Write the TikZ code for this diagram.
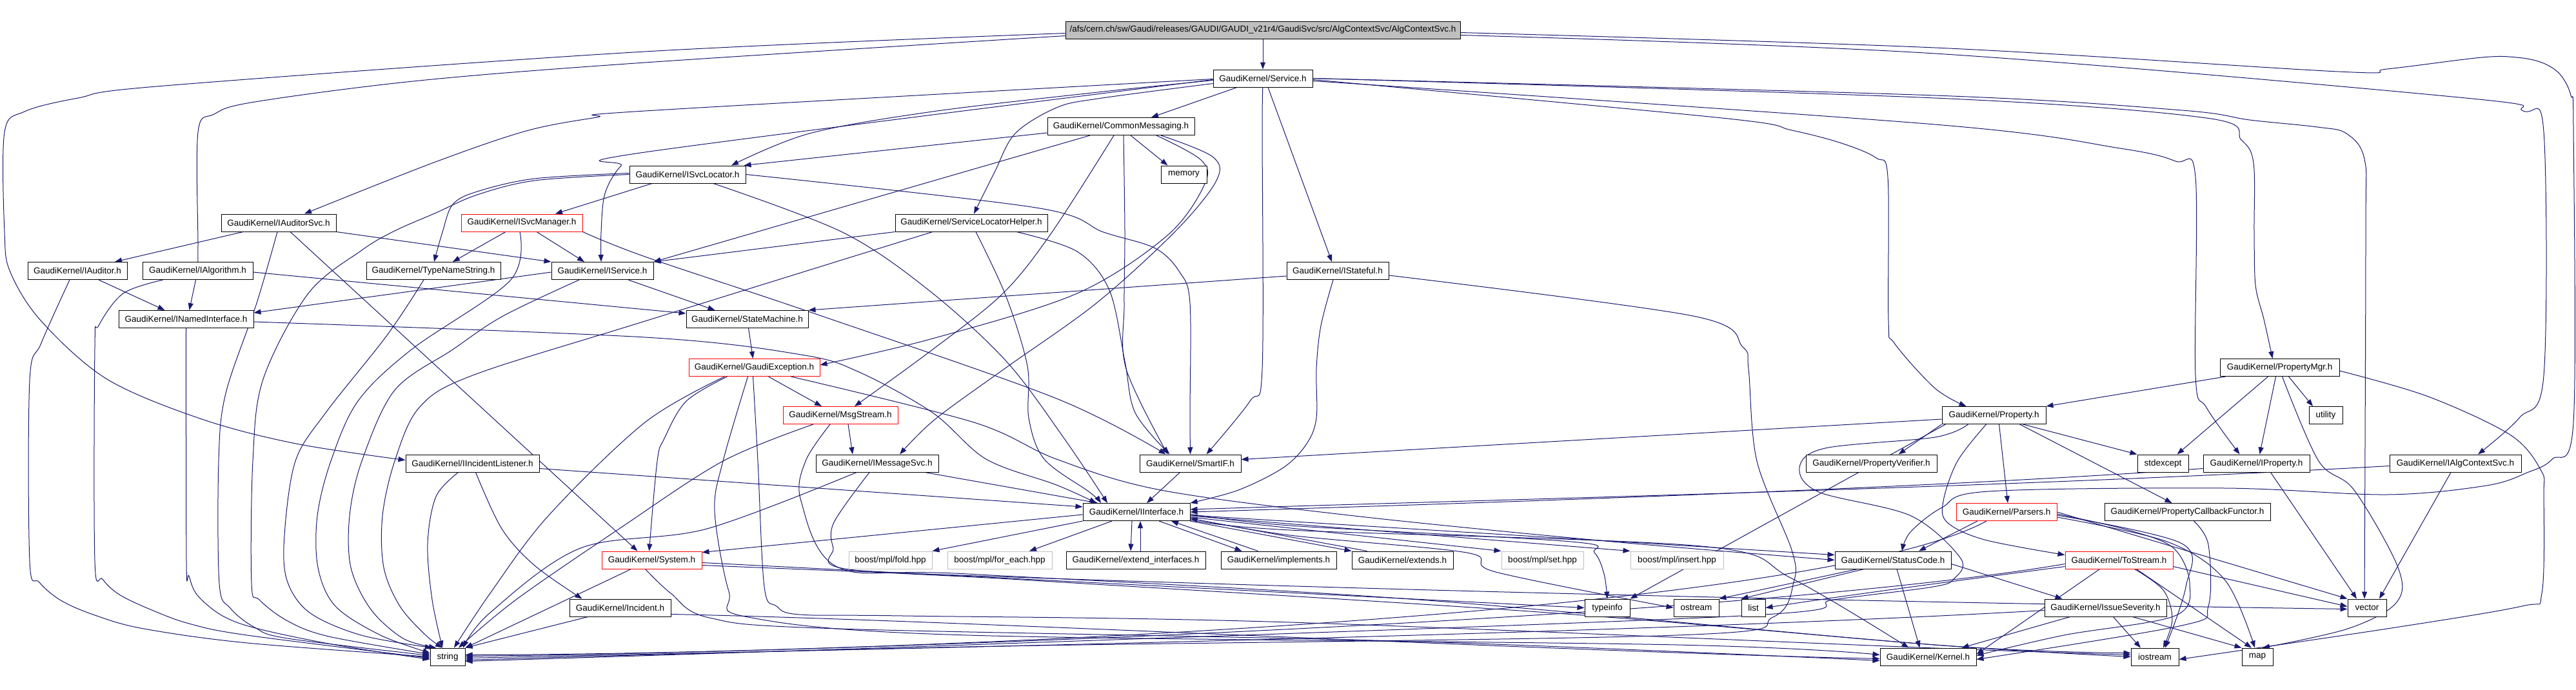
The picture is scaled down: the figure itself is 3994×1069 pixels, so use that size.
\documentclass[tikz,border=0pt]{standalone}
\usepackage{fontspec}
\setmainfont{Liberation Sans}
\usetikzlibrary{arrows.meta}
\definecolor{edgec}{HTML}{191970}
\definecolor{rootgray}{HTML}{BFBFBF}
\definecolor{bgray}{HTML}{BFBFBF}
\pgfdeclarelayer{background}
\pgfsetlayers{background,main}
\newcommand{\pth}[1]{\draw[edg] plot[smooth,tension=0.55] coordinates {#1};}
\begin{document}
\begin{tikzpicture}[x=1pt,y=-1pt,
  nd/.style={draw=black,line width=1pt,fill=white,inner sep=0pt,minimum height=27pt,font=\fontsize{13.5}{16}\selectfont},
  trunc/.style={nd,draw=red},
  bst/.style={nd,draw=bgray},
  edg/.style={draw=edgec,line width=1pt,-{Triangle[length=11pt,width=8pt]}}]
\useasboundingbox (0,0) rectangle (3994,1069);
% ---------------- nodes
\node[nd,fill=rootgray,minimum width=612pt] (root) at (1958,46.5) {/afs/cern.ch/sw/Gaudi/releases/GAUDI/GAUDI\_v21r4/GaudiSvc/src/AlgContextSvc/AlgContextSvc.h};
\node[nd,minimum width=154pt] (svc) at (1958,121.5) {GaudiKernel/Service.h};
\node[nd,minimum width=228pt] (cm) at (1738,196) {GaudiKernel/CommonMessaging.h};
\node[nd,minimum width=71pt] (mem) at (1835.5,270.5) {memory};
\node[nd,minimum width=180pt] (isl) at (1066,270.5) {GaudiKernel/ISvcLocator.h};
\node[nd,minimum width=178pt] (ias) at (432,345.5) {GaudiKernel/IAuditorSvc.h};
\node[trunc,minimum width=188pt] (ism) at (809,345.5) {GaudiKernel/ISvcManager.h};
\node[nd,minimum width=236pt] (slh) at (1506,345.5) {GaudiKernel/ServiceLocatorHelper.h};
\node[nd,minimum width=154pt] (iaud) at (120,420) {GaudiKernel/IAuditor.h};
\node[nd,minimum width=171pt] (ialg) at (306.5,420) {GaudiKernel/IAlgorithm.h};
\node[nd,minimum width=208pt] (tns) at (672,420) {GaudiKernel/TypeNameString.h};
\node[nd,minimum width=158pt] (isv) at (934,420) {GaudiKernel/IService.h};
\node[nd,minimum width=158pt] (ist) at (2074,420) {GaudiKernel/IStateful.h};
\node[nd,minimum width=209pt] (ini) at (288.5,495) {GaudiKernel/INamedInterface.h};
\node[nd,minimum width=189pt] (sm) at (1158.5,495) {GaudiKernel/StateMachine.h};
\node[trunc,minimum width=203pt] (gex) at (1169.5,570) {GaudiKernel/GaudiException.h};
\node[nd,minimum width=185pt] (pmgr) at (3534.5,570) {GaudiKernel/PropertyMgr.h};
\node[trunc,minimum width=178pt] (msg) at (1303,644) {GaudiKernel/MsgStream.h};
\node[nd,minimum width=161pt] (prop) at (3091.5,644) {GaudiKernel/Property.h};
\node[nd,minimum width=52pt] (util) at (3606,644) {utility};
\node[nd,minimum width=207pt] (iil) at (732.5,718.5) {GaudiKernel/IIncidentListener.h};
\node[nd,minimum width=190pt] (ims) at (1360,718.5) {GaudiKernel/IMessageSvc.h};
\node[nd,minimum width=157pt] (sif) at (1845.5,718.5) {GaudiKernel/SmartIF.h};
\node[nd,minimum width=203pt] (pver) at (2901.5,718.5) {GaudiKernel/PropertyVerifier.h};
\node[nd,minimum width=79pt] (stde) at (3353.5,718.5) {stdexcept};
\node[nd,minimum width=165pt] (iprop) at (3498.5,718.5) {GaudiKernel/IProperty.h};
\node[nd,minimum width=204pt] (iacs) at (3807,718.5) {GaudiKernel/IAlgContextSvc.h};
\node[nd,minimum width=166pt] (iif) at (1762,794) {GaudiKernel/IInterface.h};
\node[trunc,minimum width=156pt] (pars) at (3111,794) {GaudiKernel/Parsers.h};
\node[nd,minimum width=257pt] (pcf) at (3391.5,794) {GaudiKernel/PropertyCallbackFunctor.h};
\node[trunc,minimum width=155pt] (sys) at (1010.5,868.5) {GaudiKernel/System.h};
\node[bst,minimum width=129pt] (fold) at (1380.5,868.5) {boost/mpl/fold.hpp};
\node[bst,minimum width=162pt] (fore) at (1550,868.5) {boost/mpl/for\_each.hpp};
\node[nd,minimum width=216pt] (extif) at (1761,868.5) {GaudiKernel/extend\_interfaces.h};
\node[nd,minimum width=179pt] (impl) at (1982.5,868.5) {GaudiKernel/implements.h};
\node[nd,minimum width=157pt] (exts) at (2174.5,868.5) {GaudiKernel/extends.h};
\node[bst,minimum width=127pt] (mset) at (2391.5,868.5) {boost/mpl/set.hpp};
\node[bst,minimum width=144pt] (mins) at (2600,868.5) {boost/mpl/insert.hpp};
\node[nd,minimum width=180pt] (sc) at (2935,868.5) {GaudiKernel/StatusCode.h};
\node[trunc,minimum width=167pt] (tos) at (3285.5,868.5) {GaudiKernel/ToStream.h};
\node[nd,minimum width=157pt] (inc) at (961.5,942.5) {GaudiKernel/Incident.h};
\node[nd,minimum width=70pt] (tinfo) at (2492,942.5) {typeinfo};
\node[nd,minimum width=70pt] (ostr) at (2630,942.5) {ostream};
\node[nd,minimum width=37pt] (lst) at (2718.5,942.5) {list};
\node[nd,minimum width=189pt] (isev) at (3264.5,942.5) {GaudiKernel/IssueSeverity.h};
\node[nd,minimum width=60pt] (vec) at (3670,942.5) {vector};
\node[nd,minimum width=54pt] (str) at (694,1018.5) {string};
\node[nd,minimum width=149pt] (kern) at (2989.5,1018.5) {GaudiKernel/Kernel.h};
\node[nd,minimum width=74pt] (iost) at (3341,1018.5) {iostream};
\node[nd,minimum width=48pt] (map) at (3500,1018.5) {map};
% ---------------- edges
\begin{pgfonlayer}{background}
\fill[white] (0,0) rectangle (3994,1069);
% root
\draw[edg] (root) -- (svc);
\pth{([yshift=-5pt]root.west) (1000,80) (255,133) (121,152) (38,173) (7,205) (7,360) (16,422) (64,498) (166,588) (313,650) (459,688) ([yshift=5pt]iil.west)}
\pth{([yshift=-9pt]root.west) (1000,97) (650,125) (395,158) (332,177) (307,205) (307,380) (ialg.north)}
\pth{([yshift=-8pt]root.east) (3000,83) (3823,152) (3912,172) (3944,205) (3944,582) (3906,648) ([xshift=35pt]iacs.north)}
\pth{([yshift=-4pt]root.east) (3000,74) (3625,111) (3701,107) (3848,89) (3902,89) (3941,97) (3969,115) (3986,148) (3990,200) (3990,655) (3957,712) (3918,733) (3855,753) (3701,767) (3450,757) (3083,762) (3011,787) (2962,825) ([xshift=14pt]sc.north)}
% Service
\draw[edg] ([xshift=-40pt]svc.south) -- ([xshift=47pt]cm.north);
\pth{([yshift=-3pt]svc.west) (1702,143) (1446,173) (1255,207) ([xshift=68pt]isl.north)}
\pth{([yshift=-1pt]svc.west) (1000,172) (925,182) (816,203) (670,253) ([xshift=40pt]ias.north)}
\pth{([yshift=-2pt]svc.west) (1000,236) (963,257) (938,300) (932,360) ([xshift=-2pt]isv.north)}
\pth{([yshift=-8pt]svc.west) (1702,153) (1638,167) (1574,207) (1542,267) ([xshift=4pt]slh.north)}
\pth{(svc.south) (1957,200) (1957,572) (1938,622) ([xshift=25pt]sif.north)}
\draw[edg] ([xshift=8pt]svc.south) -- ([xshift=-9pt]ist.north);
\pth{([yshift=-2pt]svc.east) (2670,183) (2778,202) (2855,222) (2909,245) (2927,275) (2928,498) (2937,532) (3000,602) ([xshift=-43pt]prop.north)}
\pth{([yshift=-4pt]svc.east) (3000,193) (3287,230) (3373,250) (3404,275) (3404,582) (3421,632) ([xshift=-26pt]iprop.north)}
\pth{(svc.east) (3000,152) (3421,183) (3475,217) (3494,253) (3495,360) (3497,442) (3510,495) ([xshift=-11pt]pmgr.north)}
\pth{(svc.east) (3000,148) (3383,171) (3488,186) (3593,197) (3638,207) (3666,247) (3668,360) ([xshift=-4pt]vec.north)}
% CommonMessaging
\draw[edg] ([yshift=-10pt]cm.west) -- ([xshift=-3pt]isl.north east);
\draw[edg] ([xshift=15pt]cm.south) -- ([xshift=-25pt]mem.north);
\draw[edg] ([xshift=-48pt]cm.south) -- (isv.north east);
\pth{([xshift=-11pt]cm.south) (1631,360) (1555,455) (1446,542) ([xshift=22pt]msg.north)}
\pth{([xshift=4pt]cm.south) (1744,360) (1743,472) (1746,572) ([xshift=-35pt]sif.north)}
\pth{([xshift=62pt]cm.south) (1880,243) (1886,280) (1823,358) (1700,470) (1560,570) (1450,650) ([xshift=35pt]ims.north)}
\pth{([xshift=55pt]cm.south) (1862,248) (1868,285) (1810,365) (1670,455) (1446,525) ([yshift=4pt]gex.east)}
% ISvcLocator
\draw[edg] ([xshift=-55pt]isl.south) -- ([xshift=52pt]ism.north);
\pth{([yshift=2pt]isl.west) (829,277) (740,297) (702,317) (686,360) ([xshift=1pt]tns.north)}
\pth{(isl.west) (829,280) (740,302) (676,330) (612,358) (561,388) (478,455) (408,588) (392,715) (390,905) (402,930) (446,963) (510,987) ([yshift=4pt]str.west)}
\pth{(isl.east) (1606,322) (1711,360) (1791,385) (1829,422) (1845,470) (1845,640) (sif.north)}
\pth{([xshift=40pt]isl.south) (1306,360) (1440,450) (1560,560) (1650,680) ([xshift=-45pt]iif.north)}
% IAuditorSvc
\draw[edg] ([xshift=-55pt]ias.south) -- ([xshift=58pt]iaud.north);
\draw[edg] (ias.south east) -- (isv.north west);
\draw[edg] ([xshift=18pt]ias.south) -- ([xshift=-22pt]sys.north);
\pth{([xshift=-2pt]ias.south) (398,470) (350,610) (339,715) (340,905) (357,943) (395,973) (446,990) ([yshift=2pt]str.west)}
% IAuditor
\draw[edg] ([xshift=33pt]iaud.south) -- ([xshift=-33pt]ini.north);
\pth{([xshift=-12pt]iaud.south) (64,532) (46,590) (46,870) (61,903) (96,932) (150,955) (223,975) (383,997) (str.west)}
% IAlgorithm
\draw[edg] ([xshift=-3pt]ialg.south) -- ([xshift=5pt]ini.north);
\draw[edg] ([yshift=-2pt]ialg.east) -- ([yshift=9pt]sm.west);
\pth{([xshift=-54pt]ialg.south) (191,455) (153,505) (147,540) (147,870) (159,898) (185,922) (233,945) (293,967) (383,985) ([yshift=-2pt]str.west)}
% TypeNameString
\pth{([xshift=-15pt]tns.south) (600,520) (505,640) (458,715) (441,830) (445,900) (480,950) (560,985) ([xshift=-24pt]str.north)}
% ISvcManager
\draw[edg] ([xshift=-25pt]ism.south) -- ([xshift=30pt]tns.north);
\draw[edg] ([xshift=23pt]ism.south) -- ([xshift=-28pt]isv.north);
\pth{([xshift=-3pt]ism.south) (791,435) (638,542) (555,622) (513,715) (492,800) (493,880) (520,940) (590,985) ([yshift=6pt]str.west)}
\pth{(ism.south east) (1000,398) (1268,488) (1638,618) ([xshift=-38pt]sif.north)}
% IService
\draw[edg] ([yshift=-2pt]isv.west) -- ([yshift=10pt]ini.east);
\draw[edg] ([xshift=40pt]isv.south) -- ([xshift=-50pt]sm.north);
\pth{([xshift=-36pt]isv.south) (780,490) (702,542) (612,605) (561,715) (542,800) (544,880) (575,945) (625,990) ([xshift=-18pt]str.north)}
% ServiceLocatorHelper
\draw[edg] (slh.south west) -- (isv.north east);
\pth{([xshift=-60pt]slh.south) (1000,498) (733,582) (650,632) (612,715) (593,800) (595,880) (620,940) (660,985) ([xshift=-8pt]str.north)}
\pth{([xshift=7pt]slh.south) (1560,460) (1593,568) (1595,648) (1619,712) (1689,763) ([xshift=-55pt]iif.north)}
\pth{([xshift=70pt]slh.south) (1670,390) (1720,450) (1744,560) (1760,640) ([xshift=-32pt]sif.north)}
% IStateful
\draw[edg] ([yshift=-8pt]ist.west) -- ([yshift=14pt]sm.east);
\pth{([xshift=-7pt]ist.south) (2048,505) (2041,572) (2041,648) (2026,688) (1990,725) (1920,760) (iif.north east)}
\pth{([yshift=-7pt]ist.east) (2625,490) (2702,538) (2711,572) (2724,715) (2778,853) (2781,903) (2749,957) (2600,985) (1500,1003) ([yshift=-5pt]str.east)}
% INamedInterface
\pth{([yshift=-4pt]ini.east) (1000,523) (1242,550) (1332,577) (1446,640) (1529,712) (1638,752) ([xshift=-62pt]iif.north)}
\pth{(ini.south) (289,870) (293,893) (306,923) (345,955) (400,975) (520,1000) ([yshift=-4pt]str.west)}
% StateMachine
\draw[edg] (sm) -- (gex);
% GaudiException
\draw[edg] ([xshift=22pt]gex.south) -- ([xshift=-29pt]msg.north);
\pth{([xshift=-42pt]gex.south) (1064,622) (1030,680) (1019,715) ([xshift=-4pt]sys.north)}
\pth{([xshift=-46pt]gex.south) (1000,655) (850,800) (760,920) ([xshift=10pt]str.north)}
\pth{([xshift=-10pt]gex.south) (1121,715) (1108,793) (1130,917) (1160,957) (1500,985) (2600,1000) ([yshift=3pt]kern.west)}
\pth{([xshift=-2pt]gex.south) (1175,715) (1185,910) (1204,940) (1240,953) (1400,955) (2000,965) (3000,1005) ([yshift=3pt]iost.west)}
\pth{([xshift=57pt]gex.south) (1510,655) (1638,712) (1800,760) (2100,800) (2500,840) (sc.west)}
% MsgStream
\draw[edg] ([xshift=12pt]msg.south) -- ([xshift=-38pt]ims.north);
\pth{([xshift=-42pt]msg.south) (1121,715) (960,820) (800,930) ([xshift=17pt]str.north)}
\pth{([xshift=-16pt]msg.south) (1249,715) (1242,777) (1300,880) (1500,890) (2200,930) (3000,1000) ([yshift=6pt]iost.west)}
% IMessageSvc
\draw[edg] ([xshift=74pt]ims.south) -- ([xshift=-60pt]iif.north);
\pth{([xshift=-32pt]ims.south) (1096,820) (900,850) (760,950) ([xshift=24pt]str.north)}
\pth{([xshift=-12pt]ims.south) (1293,810) (1292,850) (1310,882) (1600,900) (2400,950) (3000,1000) (iost.west)}
% IIncidentListener
\pth{([xshift=5pt]iil.south) (778,820) (829,877) ([xshift=-59pt]inc.north)}
\draw[edg] ([yshift=-8pt]iil.east) -- ([yshift=8pt]iif.west);
\pth{([xshift=-22pt]iil.south) (676,770) (663,843) (670,930) ([xshift=-8pt]str.north)}
% Incident
\draw[edg] ([xshift=-50pt]inc.south) -- (str.north east);
\draw[edg] ([yshift=-10pt]inc.east) .. controls (1500,962) and (2400,1010) .. ([yshift=-3pt]kern.west);
% SmartIF
\draw[edg] ([xshift=-16pt]sif.south) -- ([xshift=16pt]iif.north);
% IInterface
\draw[edg] ([yshift=-4pt]iif.west) -- ([yshift=12pt]sys.east);
\draw[edg] (iif.south west) -- (fold.north east);
\draw[edg] ([xshift=-38pt]iif.south) -- ([xshift=46pt]fore.north);
\draw[edg] ([xshift=-7pt]iif.south) -- ([xshift=-8pt]extif.north);
\draw[edg] ([xshift=7pt]extif.north) -- ([xshift=6pt]iif.south);
\draw[edg] ([xshift=35pt]iif.south) -- ([xshift=-57pt]impl.north);
\draw[edg] ([xshift=-32pt]impl.north) -- ([xshift=54pt]iif.south);
\draw[edg] (iif.south east) -- (exts.north west);
\draw[edg] ([xshift=-55pt]exts.north) -- ([yshift=-10pt]iif.east);
\draw[edg] ([yshift=-8pt]iif.east) -- (mset.north west);
\draw[edg] ([yshift=-6pt]iif.east) -- (mins.north west);
\draw[edg] ([yshift=-5pt]iif.east) -- ([yshift=8pt]sc.west);
\pth{([yshift=-3pt]iif.east) (2000,815) (2436,840) (2472,857) (2487,890) (tinfo.north)}
\pth{([yshift=-10pt]iif.east) (2000,830) (2274,857) (2319,887) (ostr.west)}
\pth{([yshift=-12pt]iif.east) (2000,822) (2638,847) (2778,897) ([xshift=-30pt]kern.north)}
% StatusCode
\draw[edg] ([yshift=-6pt]sc.east) -- ([xshift=28pt]isev.north west);
\draw[edg] ([xshift=-55pt]sc.south) -- (ostr.north east);
\draw[edg] ([xshift=-45pt]sc.south) -- (lst.north west);
\draw[edg] ([xshift=6pt]sc.south) -- ([xshift=-13pt]kern.north);
% IssueSeverity
\draw[edg] ([xshift=-55pt]isev.south) -- ([xshift=52pt]kern.north);
\draw[edg] ([xshift=12pt]isev.south) -- ([xshift=-22pt]iost.north);
\draw[edg] ([xshift=42pt]isev.south) -- (map.north west);
\draw[edg] ([yshift=-4pt]isev.west) .. controls (2500,985) and (1200,1010) .. ([yshift=-2pt]str.east);
% ToStream
\pth{([xshift=24pt]tos.south) (3354,915) (3368,960) ([xshift=13pt]iost.north)}
\draw[edg] ([xshift=27pt]tos.south) -- ([xshift=-9pt]map.north);
\draw[edg] ([yshift=-10pt]tos.east) -- ([yshift=2pt]vec.west);
\draw[edg] ([yshift=-6pt]tos.west) .. controls (2700,960) and (1300,1012) .. ([yshift=1pt]str.east);
\draw[edg] ([xshift=-30pt]tos.south) -- ([yshift=4pt]kern.east);
\draw[edg] ([yshift=-10pt]tos.west) .. controls (3000,905) and (2850,925) .. (lst.east);
% Parsers
\draw[edg] ([xshift=-31pt]pars.south) .. controls (2800,960) and (1300,1015) .. ([yshift=3pt]str.east);
\draw[edg] (pars.east) -- (vec.north west);
\pth{([yshift=-8pt]pars.east) (3360,840) (3450,900) ([xshift=-4pt]map.north)}
\pth{([yshift=-5pt]pars.east) (3383,843) (3389,910) ([xshift=16pt]iost.north)}
\pth{([yshift=-3pt]pars.east) (3300,822) (3370,850) (3395,905) (3372,955) (3200,985) ([yshift=2pt]kern.east)}
\draw[edg] ([xshift=-45pt]pars.south) -- ([xshift=40pt]sc.north);
% Property
\draw[edg] (prop.south west) -- ([xshift=42pt]pver.north);
\draw[edg] ([xshift=40pt]prop.south) -- ([xshift=-24pt]pcf.north);
\draw[edg] ([xshift=8pt]prop.south) -- ([xshift=2pt]pars.north);
\pth{([xshift=-12pt]prop.south) (3035,715) (3013,777) (3019,810) (3077,837) ([yshift=8pt]tos.west)}
\draw[edg] ([xshift=45pt]prop.south) -- (stde.north west);
\draw[edg] ([xshift=-75pt]prop.south) -- (tinfo.north east);
\draw[edg] ([yshift=-6pt]prop.west) -- ([yshift=6pt]sif.east);
\pth{([xshift=-40pt]prop.south) (3000,678) (2830,695) (2790,725) (2820,763) (2963,800) (3040,866) (3030,897) (2997,910) (2843,930) (2700,955) (1500,1000) ([yshift=-7pt]str.east)}
% PropertyMgr
\draw[edg] ([xshift=-84pt]pmgr.south) -- (prop.north east);
\draw[edg] ([xshift=-18pt]pmgr.south) -- ([xshift=22pt]stde.north);
\draw[edg] ([xshift=-6pt]pmgr.south) -- ([xshift=5pt]iprop.north);
\draw[edg] ([xshift=14pt]pmgr.south) -- ([xshift=-20pt]util.north);
\pth{([xshift=4pt]pmgr.south) (3595,715) (3650,760) (3718,880) (3715,935) (3640,975) ([xshift=8pt]map.north)}
\pth{([yshift=-5pt]pmgr.east) (3765,615) (3893,675) (3940,730) (3944,767) (3941,920) (3910,940) (3701,975) ([yshift=-4pt]iost.east)}
% IProperty
\draw[edg] ([xshift=22pt]iprop.south) -- ([xshift=-16pt]vec.north);
\draw[edg] ([yshift=-8pt]iprop.west) .. controls (3000,757) and (2300,780) .. (iif.east);
% IAlgContextSvc
\draw[edg] ([xshift=-7pt]iacs.south) -- ([xshift=19pt]vec.north);
\draw[edg] ([yshift=-4pt]iacs.west) .. controls (3100,757) and (2300,775) .. ([yshift=4pt]iif.east);
% PropertyCallbackFunctor
\pth{([xshift=10pt]pcf.south) (3424,845) (3424,940) (3383,970) ([yshift=-4pt]kern.east)}
% System
\draw[edg] ([xshift=-32pt]sys.south) -- (str.north east);
\draw[edg] ([yshift=-4pt]sys.east) -- (tinfo.west);
\pth{([xshift=-10pt]sys.south) (1040,920) (1100,958) (1300,975) (2200,995) ([yshift=-6pt]kern.west)}
\draw[edg] ([yshift=-8pt]sys.east) .. controls (2000,915) and (3000,935) .. ([yshift=-2pt]vec.west);
\end{pgfonlayer}
\end{tikzpicture}
\end{document}
